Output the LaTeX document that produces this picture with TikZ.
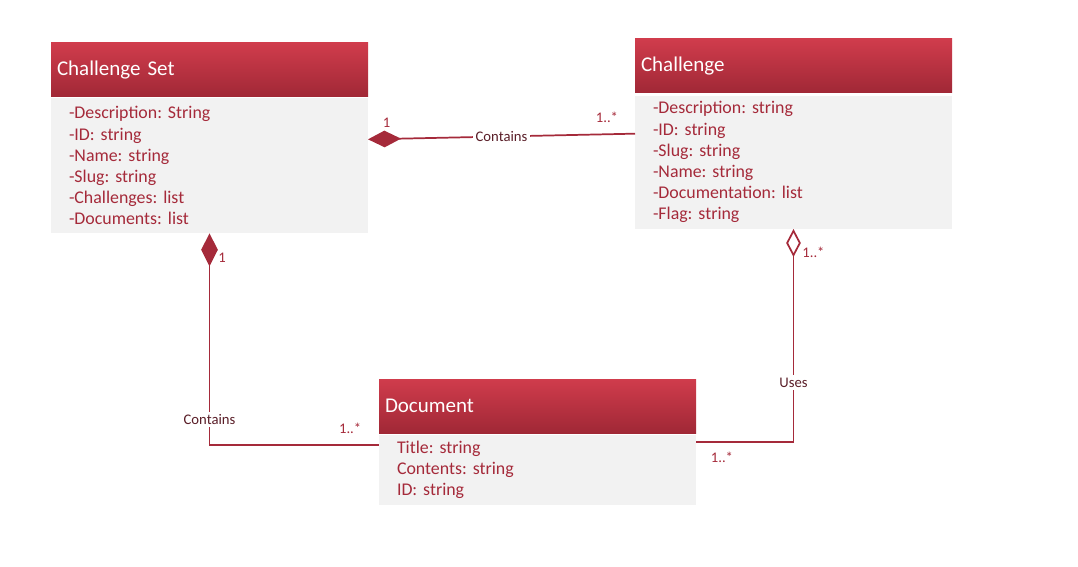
\documentclass[tikz,border=0pt]{standalone}
\usepackage{fontspec}
\setmainfont{Carlito}
\frenchspacing
\usetikzlibrary{arrows.meta,positioning}
\definecolor{umlred}{HTML}{A52A3A}
\definecolor{headtop}{HTML}{D03C4C}
\definecolor{headbot}{HTML}{A02836}
\definecolor{bodygray}{HTML}{F2F2F2}
\definecolor{labdark}{HTML}{5A1E28}
\tikzset{
class head/.style={anchor=north west,minimum height=40.5pt,text width=228.75pt,inner xsep=4.5pt,inner ysep=0pt,outer sep=0pt,top color=headtop,bottom color=headbot,text=white,align=left,font=\fontsize{15.75}{18}\selectfont},
class body/.style={fill=bodygray,text width=210.75pt,inner xsep=13.5pt,inner ysep=0pt,outer sep=0pt,text=umlred,align=left,font=\fontsize{13.4}{15.9}\selectfont},
link/.style={draw=umlred,line width=1.3pt},
role/.style={font=\fontsize{11}{12}\selectfont,text=labdark,fill=white,inner sep=2pt},
mult/.style={font=\fontsize{11}{12}\selectfont,text=umlred,inner sep=1pt},
solid diamond/.style={{Diamond[length=24.75pt,width=12.5pt]}-},
open diamond/.style={{Diamond[open,length=21pt,width=11pt]}-}}

\begin{document}
\begin{tikzpicture}[x=0.75pt,y=-0.75pt]
      \useasboundingbox (0,0) rectangle (1078,567);

      \node[class head] (set) at (51,43) {Challenge Set};
      \node[class body,minimum height=101.25pt,below=1pt of set] (setbody) {-Description: String\\-ID: string\\-Name: string\\-Slug: string\\-Challenges: list\\-Documents: list};

      \node[class head] (chal) at (635,39) {Challenge};
      \node[class body,minimum height=100pt,below=2pt of chal] (chalbody) {-Description: string\\-ID: string\\-Slug: string\\-Name: string\\-Documentation: list\\-Flag: string};

      \node[class head] (doc) at (379,379) {Document};
      \node[class body,minimum height=52.5pt,below=1.5pt of doc] (docbody) {Title: string\\Contents: string\\ID: string};

      \draw[link,solid diamond] ([yshift=-30.75pt]setbody.north east) -- node[role] {Contains} node[mult,pos=0.07,above=7pt] {1} node[mult,pos=0.895,above=7pt] {1..*} ([yshift=-28.5pt]chalbody.north west);
      \draw[link,solid diamond] (setbody.south) |- node[role,pos=0.44] {Contains} node[mult,pos=0.057,right=5pt] {1} node[mult,pos=0.915,above=7pt] {1..*} ([yshift=-7.5pt]docbody.north west);
      \draw[link,open diamond] (chalbody.south) |- node[role,pos=0.36] {Uses} node[mult,pos=0.054,right=5pt] {1..*} node[mult,pos=0.867,below=6pt] {1..*} ([yshift=-5.25pt]docbody.north east);
\end{tikzpicture}
\end{document}
